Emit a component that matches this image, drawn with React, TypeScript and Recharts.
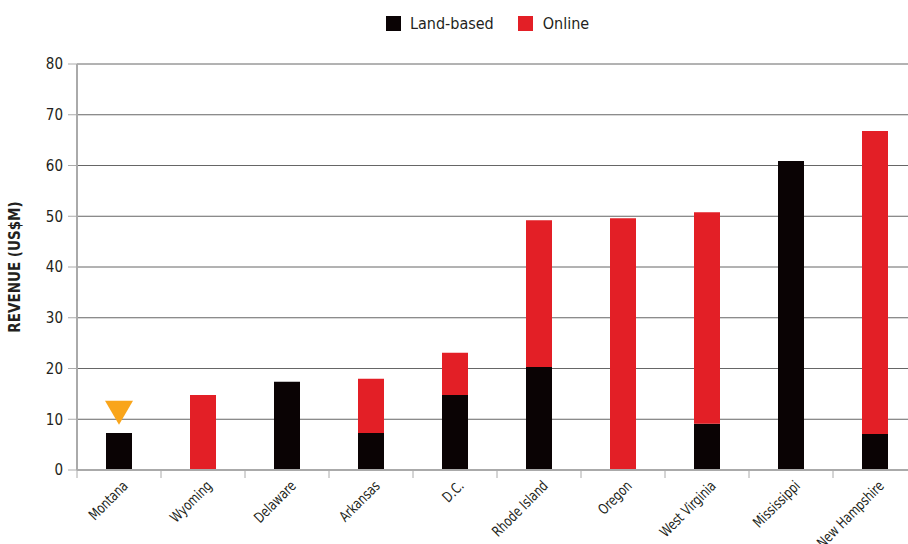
import React from 'react';
import {
  ComposedChart, Bar, Scatter, XAxis, YAxis, CartesianGrid, Legend,
} from 'recharts';

const states = ['Montana', 'Wyoming', 'Delaware', 'Arkansas', 'D.C.', 'Rhode Island', 'Oregon', 'West Virginia', 'Mississippi', 'New Hampshire'];
const landBased = [7.3, 0, 17.4, 7.3, 14.8, 20.3, 0, 9.1, 60.9, 7.1];
const online = [0, 14.8, 0, 10.7, 8.3, 28.9, 49.6, 41.7, 0, 59.7];
const marker = [11.3, null, null, null, null, null, null, null, null, null];
const yTicks = [0, 10, 20, 30, 40, 50, 60, 70, 80];
const boundaryTicks = [0, 1, 2, 3, 4, 5, 6, 7, 8, 9, 10];

const data = states.map((s, i) => ({ state: s, land: landBased[i], online: online[i], marker: marker[i] }));

const FONT = '"Liberation Sans Narrow", "DejaVu Sans Condensed", "Arial Narrow", sans-serif';
const TEXT = '#231f20';
const BLACK = '#0a0304';
const RED = '#e31f26';
const ORANGE = '#f9a51b';

const Triangle = (props: any) => {
  const { cx, cy } = props;
  if (cx == null || cy == null || props.payload?.marker == null) return null;
  const w = 28, h = 24;
  return <path d={`M${cx - w / 2},${cy - h / 2} L${cx + w / 2},${cy - h / 2} L${cx},${cy + h / 2} Z`} fill={ORANGE} />;
};

// rotated category label, squeezed a bit to look like the condensed face
const XLabel = (props: any) => {
  const { x, y, payload } = props;
  return (
    <g transform={`translate(${x + 7},${y})`}>
      <text transform="rotate(-45) scale(0.85,1)" textAnchor="end" dy={4} fontSize={14.5} fill={TEXT} fontFamily={FONT}>
        {payload.value}
      </text>
    </g>
  );
};

const LegendBox = () => (
  <div style={{ display: 'flex', alignItems: 'center', fontFamily: FONT, fontSize: 16, color: TEXT, marginLeft: 386 }}>
    <span style={{ width: 15, height: 15, background: BLACK, display: 'inline-block', marginRight: 9 }} />
    <span style={{ marginRight: 24 }}>Land-based</span>
    <span style={{ width: 15, height: 15, background: RED, display: 'inline-block', marginRight: 10 }} />
    <span>Online</span>
  </div>
);

export default function App() {
  return (
    <div style={{ position: 'absolute', left: 0, top: 0, width: 908, height: 544, overflow: 'hidden', background: '#fff' }}>
      <ComposedChart width={920} height={544} data={data} margin={{ top: 45, right: 3, left: 0, bottom: 0 }}>
        <Legend verticalAlign="top" align="left" content={<LegendBox />} wrapperStyle={{ top: 14, left: 0 }} />
        <CartesianGrid vertical={false} stroke="#666" xAxisId="z_cat" />
        <XAxis
          xAxisId="a_ticks"
          type="number"
          dataKey="idx"
          domain={[0, 10]}
          ticks={boundaryTicks}
          tickFormatter={() => ''}
          tickSize={8}
          height={8}
          stroke="#aaa"
          axisLine={{ stroke: '#aaa', strokeWidth: 2 }}
          allowDataOverflow
        />
        <XAxis
          xAxisId="z_cat"
          dataKey="state"
          axisLine={false}
          tickLine={false}
          interval={0}
          height={66}
          tick={<XLabel />}
          tickMargin={0}
        />
        <YAxis
          domain={[0, 80]}
          ticks={yTicks}
          width={77}
          tickSize={9}
          stroke="#aaa"
          axisLine={{ stroke: '#aaa', strokeWidth: 2 }}
          tick={{ fill: TEXT, fontSize: 15, fontFamily: FONT }}
          tickMargin={5}
          label={{
            value: 'REVENUE (US$M)', angle: -90, position: 'insideLeft', offset: 15,
            style: { fill: TEXT, fontSize: 15, fontWeight: 'bold', fontFamily: FONT, textAnchor: 'middle' },
          }}
        />
        <Bar xAxisId="z_cat" dataKey="land" stackId="a" fill={BLACK} barSize={26} isAnimationActive={false} />
        <Bar xAxisId="z_cat" dataKey="online" stackId="a" fill={RED} barSize={26} isAnimationActive={false} />
        <Scatter xAxisId="z_cat" dataKey="marker" shape={<Triangle />} isAnimationActive={false} />
      </ComposedChart>
    </div>
  );
}
